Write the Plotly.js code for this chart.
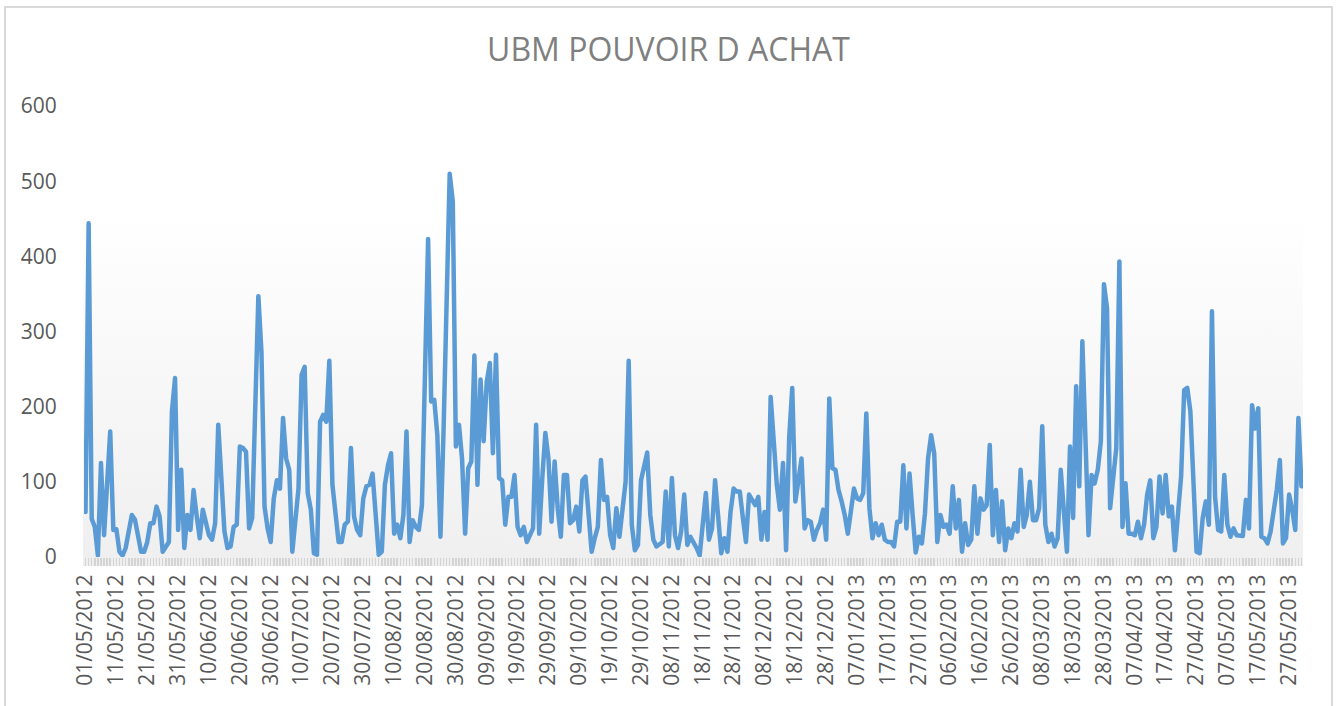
<!DOCTYPE html>
<html>
<head>
<meta charset="utf-8">
<script src="https://cdn.plot.ly/plotly-3.0.1.min.js"></script>
<style>
  html, body { margin: 0; padding: 0; background: #ffffff; }
  #wrap { position: relative; width: 1337px; height: 706px; overflow: hidden; }
  #bg { position: absolute; left: 83px; top: 213px; width: 1220px; height: 353px;
        background: linear-gradient(to bottom, #ffffff 0%, #efefef 100%); z-index: 0; }
  #chart { position: absolute; left: 0; top: 0; width: 1337px; height: 706px; z-index: 1; }
  #frame { position: absolute; left: 4px; top: 6px; width: 1325px; height: 720px;
           border: 2px solid #d9d9d9; z-index: 2; pointer-events: none; }
  .scatterlayer path.js-line { stroke-linejoin: round !important; stroke-linecap: round !important; }
</style>
</head>
<body>
<div id="wrap">
  <div id="bg"></div>
  <div id="chart"></div>
  <div id="frame"></div>
</div>
<script>
// Daily values, one array per month (05/08/2012 absent from the source data)
var may2012 = [60,444,51,40,2,125,29,90,167,36,37,7,2,12,35,56,50,25,7,7,20,45,45,67,54,7,14,20,194,238,36];
var jun2012 = [116,12,56,36,89,55,25,63,45,29,23,45,176,100,34,12,14,40,43,147,145,140,38,52,200,347,273,67,38,20];
var jul2012 = [78,102,91,185,131,116,7,52,91,242,253,85,63,5,3,180,189,180,261,96,52,20,20,43,47,145,54,36,29,78,94];
var aug2012 = [96,111,60,3,7,96,122,138,31,43,25,56,167,20,49,40,36,69,245,423,207,209,162,27,167,322,510,473,147,176];
var sep2012 = [131,31,118,127,268,96,236,154,233,258,138,269,105,102,43,80,80,109,40,29,40,20,29,38,176,31,105,165,131,47];
var oct2012 = [127,65,27,109,109,45,49,67,34,102,107,52,7,25,40,129,76,80,29,12,65,27,60,100,261,43,9,16,102,118,139];
var nov2012 = [56,23,14,18,20,87,14,105,29,12,34,83,16,27,20,12,2,52,85,23,38,102,52,5,25,7,60,91,87,87];
var dec2012 = [52,20,83,76,69,80,23,60,23,213,158,96,63,125,9,158,225,74,102,131,38,49,47,23,36,45,63,23,211,118,116];
var jan2013 = [89,74,56,31,60,91,78,76,85,191,65,25,45,29,43,23,20,20,14,47,47,122,38,111,56,6,27,18,58,131,162];
var feb2013 = [138,20,56,40,43,31,94,38,76,7,45,16,23,94,31,78,63,69,149,29,89,20,74,9,38,25,45,34];
var mar2013 = [116,40,56,100,49,49,65,174,43,20,31,14,25,116,52,7,147,52,227,94,287,162,29,109,98,116,154,363,331,65,109];
var apr2013 = [145,393,40,98,31,31,29,47,25,43,83,102,25,40,107,58,109,54,67,9,58,107,222,225,194,95,7,5,52,74];
var may2013 = [43,327,80,36,34,109,43,27,38,29,29,28,76,38,202,171,198,27,25,18,34,60,89,129,18,25,83,63,36,185,94];

var values = [].concat(may2012, jun2012, jul2012, aug2012, sep2012, oct2012, nov2012,
                       dec2012, jan2013, feb2013, mar2013, apr2013, may2013);

// Category labels: every date 01/05/2012 .. 31/05/2013 except the missing one
var firstDate = [2012, 5, 1];
var missingDates = ["05/08/2012"];
var labelEvery = 10;

function pad(n) { return (n < 10 ? "0" : "") + n; }
var categories = [];
var d = new Date(Date.UTC(firstDate[0], firstDate[1] - 1, firstDate[2]));
while (categories.length < values.length) {
  var s = pad(d.getUTCDate()) + "/" + pad(d.getUTCMonth() + 1) + "/" + d.getUTCFullYear();
  if (missingDates.indexOf(s) < 0) categories.push(s);
  d = new Date(d.getTime() + 86400000);
}
var tickText = categories.map(function (c, i) { return i % labelEvery === 0 ? c : ""; });

var trace = {
  type: "scatter",
  mode: "lines",
  x: categories,
  y: values,
  line: { color: "#5b9bd5", width: 4.5 },
  hoverinfo: "x+y"
};

var layout = {
  width: 1337,
  height: 706,
  margin: { l: 84, r: 34, t: 106, b: 149, pad: 0 },
  paper_bgcolor: "rgba(0,0,0,0)",
  plot_bgcolor: "rgba(0,0,0,0)",
  showlegend: false,
  font: { family: "Open Sans, sans-serif", color: "#595959" },
  title: {
    text: "UBM POUVOIR D ACHAT",
    font: { family: "Open Sans, sans-serif", size: 32, color: "#7f7f7f" },
    x: 0.5, xref: "container", xanchor: "center",
    y: 1 - 50 / 706, yref: "container", yanchor: "middle"
  },
  xaxis: {
    type: "category",
    range: [-0.5, values.length - 0.5],
    tickmode: "array",
    tickvals: categories,
    ticktext: tickText,
    ticks: "outside",
    ticklen: 8,
    tickwidth: 1.5,
    tickcolor: "#d4d4d4",
    tickangle: -90,
    tickfont: { family: "Open Sans, sans-serif", size: 21, color: "#595959" },
    showgrid: false,
    zeroline: false,
    showline: false,
    fixedrange: true
  },
  yaxis: {
    range: [0, 600],
    tickmode: "linear",
    tick0: 0,
    dtick: 100,
    ticks: "outside",
    ticklen: 22,
    tickcolor: "rgba(0,0,0,0)",
    tickfont: { family: "Open Sans, sans-serif", size: 21, color: "#595959" },
    showgrid: false,
    zeroline: false,
    showline: false,
    fixedrange: true
  }
};

Plotly.newPlot("chart", [trace], layout, { displayModeBar: false, staticPlot: true });
</script>
</body>
</html>
